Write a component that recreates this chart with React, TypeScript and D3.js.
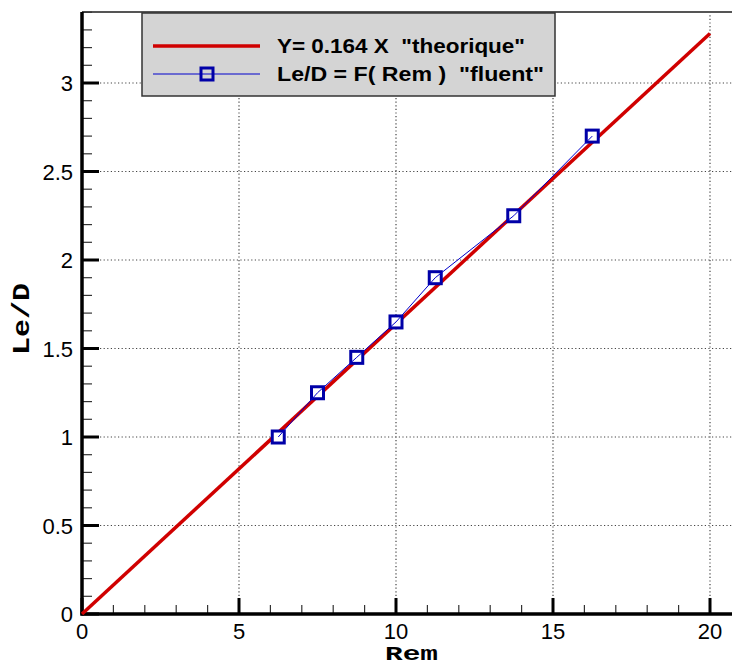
import React from "react";
import * as d3 from "d3";

const rem = [6.25, 7.5, 8.75, 10, 11.25, 13.75, 16.25];
const leD = [1.0, 1.25, 1.45, 1.65, 1.9, 2.25, 2.7];
const slope = 0.164;
const theoryX = [0, 20];
const xMajor = [0, 5, 10, 15, 20];
const yMajor = [0, 0.5, 1, 1.5, 2, 2.5, 3];
const legendLabels = ['Y= 0.164 X  "theorique"', 'Le/D = F( Rem )  "fluent"'];
const xTitle = "Rem";
const yTitle = "Le/D";

export default function App() {
  const W = 732, H = 666;
  const x = d3.scaleLinear().domain([0, 20]).range([82, 710]);
  const y = d3.scaleLinear().domain([0, 3]).range([614, 83]);
  const top = 12;
  const xMinor = d3.range(0, 21, 1).filter((v) => v % 5 !== 0);
  const yMinor = d3.range(0, 35, 1).map((v) => v / 10).filter((v) => Math.round(v * 10) % 5 !== 0);
  const theory = d3.line<number>().x((d) => x(d)).y((d) => y(slope * d));
  const fl = d3.line<number>().x((_, i) => x(rem[i])).y((d) => y(d));
  const grid = "#444";
  const sans = "'Liberation Sans', Arial, Helvetica, sans-serif";
  const mono = "'Liberation Mono', 'Courier New', monospace";
  return (
    <svg width={W} height={H} style={{ position: "absolute", left: 0, top: 0, background: "#fff" }}>
      {/* grid */}
      {xMajor.filter((v) => v > 0).map((v) => (
        <line key={"gx" + v} x1={x(v)} x2={x(v)} y1={y(0)} y2={top} stroke={grid} strokeWidth={1.2} strokeDasharray="1.2,2.4" />
      ))}
      {yMajor.filter((v) => v > 0).map((v) => (
        <line key={"gy" + v} x1={x(0)} x2={W} y1={y(v)} y2={y(v)} stroke={grid} strokeWidth={1.2} strokeDasharray="1.2,2.4" />
      ))}
      {/* top frame */}
      <line x1={x(0)} x2={W} y1={top} y2={top} stroke="#555" strokeWidth={2} />
      {/* ticks */}
      {xMinor.map((v) => (
        <line key={"xm" + v} x1={x(v)} x2={x(v)} y1={y(0)} y2={y(0) - 9} stroke="#333" strokeWidth={1.2} />
      ))}
      {xMajor.map((v) => (
        <line key={"xM" + v} x1={x(v)} x2={x(v)} y1={y(0)} y2={y(0) - 16} stroke="#000" strokeWidth={3} />
      ))}
      {yMinor.map((v) => (
        <line key={"ym" + v} x1={x(0)} x2={x(0) + 10} y1={y(v)} y2={y(v)} stroke="#333" strokeWidth={1.2} />
      ))}
      {yMajor.map((v) => (
        <line key={"yM" + v} x1={x(0)} x2={x(0) + 17} y1={y(v)} y2={y(v)} stroke="#000" strokeWidth={3} />
      ))}
      {/* axes */}
      <line x1={x(0) - 1.5} x2={W} y1={y(0)} y2={y(0)} stroke="#000" strokeWidth={3.5} />
      <line x1={x(0)} x2={x(0)} y1={y(0) + 1.5} y2={top} stroke="#000" strokeWidth={3.5} />
      {/* tick labels */}
      {xMajor.map((v) => (
        <text key={"xl" + v} x={x(v)} y={639} textAnchor="middle" fontFamily={sans} fontSize={22}>{v}</text>
      ))}
      {yMajor.map((v) => (
        <text key={"yl" + v} x={73} y={y(v) + 8} textAnchor="end" fontFamily={sans} fontSize={22}>{v}</text>
      ))}
      {/* axis titles */}
      <text x={411.5} y={660} textAnchor="middle" fontFamily={mono} fontWeight="bold" fontSize={21} textLength={53} lengthAdjust="spacingAndGlyphs">{xTitle}</text>
      <text transform={`translate(29,319) rotate(-90)`} textAnchor="middle" fontFamily={mono} fontWeight="bold" fontSize={24} textLength={72} lengthAdjust="spacingAndGlyphs">{yTitle}</text>
      {/* theory line */}
      <path d={theory(theoryX) || ""} fill="none" stroke="#d00000" strokeWidth={3.5} />
      {/* fluent markers */}
      {leD.map((v, i) => (
        <rect key={"m" + i} x={x(rem[i]) - 6} y={y(v) - 6} width={12} height={12} fill="#fff" stroke="#0000a8" strokeWidth={3} />
      ))}
      <path d={fl(leD) || ""} fill="none" stroke="#0000cc" strokeWidth={1} />
      {/* legend */}
      <rect x={142} y={13} width={413} height={83} fill="#d4d4d4" stroke="#333" strokeWidth={1.5} />
      <line x1={153} x2={260} y1={46} y2={46} stroke="#d00000" strokeWidth={3.5} />
      <line x1={153} x2={260} y1={74} y2={74} stroke="#0000cc" strokeWidth={1} />
      <rect x={201} y={68} width={12} height={12} fill="none" stroke="#0000a8" strokeWidth={3} />
      <text x={277} y={53} fontFamily={sans} fontWeight="bold" fontSize={20} textLength={248} lengthAdjust="spacingAndGlyphs" style={{ whiteSpace: "pre" }}>{legendLabels[0]}</text>
      <text x={277} y={81} fontFamily={sans} fontWeight="bold" fontSize={20} textLength={267} lengthAdjust="spacingAndGlyphs" style={{ whiteSpace: "pre" }}>{legendLabels[1]}</text>
    </svg>
  );
}
